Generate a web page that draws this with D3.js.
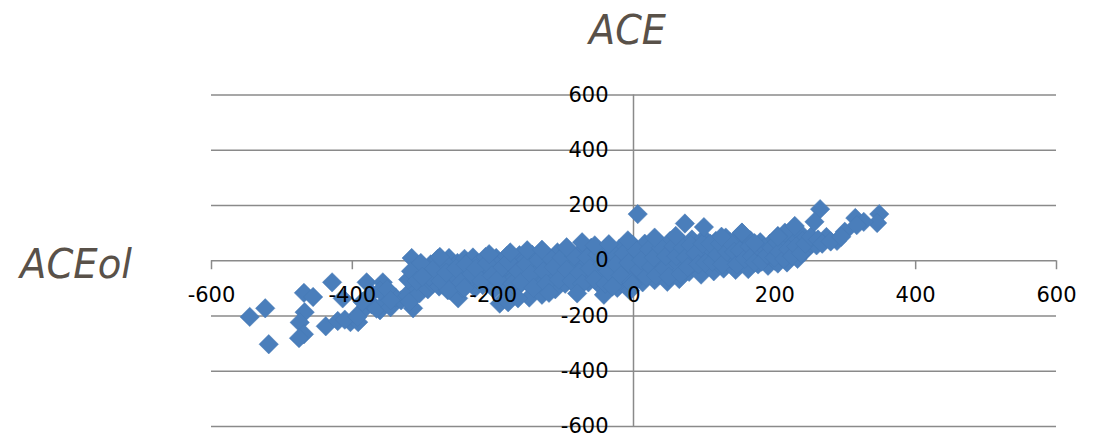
<!DOCTYPE html>
<html>
<head>
<meta charset="utf-8">
<script src="https://cdn.jsdelivr.net/npm/d3@7"></script>
<style>
  html, body { margin: 0; padding: 0; background: #fff; }
  text { font-family: "DejaVu Sans", sans-serif; }
</style>
</head>
<body>
<div id="chart"></div>
<script>
const xTicks = [-600, -400, -200, 0, 200, 400, 600];
const yTicks = [-600, -400, -200, 0, 200, 400, 600];

// scattered points on the left end, [ACE, ACEol]
const leftPoints = [
    [-545,-205],[-523,-174],[-518,-304],[-468,-118],[-455,-133],[-467,-188],[-474,-225],[-468,-268],
    [-475,-282],[-428,-80],[-437,-239],[-413,-138],[-420,-220],[-402,-224],[-391,-224],[-388,-188],
    [-379,-80],[-356,-80],[-360,-181],[-315,8],[-313,-174],[-249,-138],[-410,-215],[-380,-170],
    [-372,-160],[-365,-175],[-352,-150],[-345,-170],[-338,-135],[-330,-145],[-322,-125],[-345,-120],
    [-318,-150],[-372,-120],[-360,-110],[-350,-105],[-392,-205],[-385,-150]
];

// the dense band, read column by column
const bandPoints = [
    [-312,-55],[-310,-95],[-306,-30],[-304,-120],[-298,-70],[-295,-45],[-292,-105],[-288,-15],
    [-285,-85],[-281,-50],[-278,5],[-276,-95],[-272,-25],[-268,-70],[-264,-108],[-262,8],
    [-258,-40],[-255,-80],[-250,-10],[-247,-60],[-243,-100],[-240,5],[-236,-35],[-232,-75],
    [-228,10],[-225,-100],[-222,-15],[-218,-55],[-214,-90],[-210,12],[-206,-30],[-203,-70],
    [-198,-105],[-195,8],[-191,-15],[-188,-50],[-184,-85],[-180,15],[-177,-120],[-174,-30],
    [-170,-65],[-166,-100],[-162,18],[-158,-10],[-155,-45],[-151,-80],[-148,-135],[-144,20],
    [-140,-25],[-137,-60],[-133,-95],[-130,-125],[-126,25],[-122,-5],[-119,-40],[-115,-75],
    [-111,-105],[-108,28],[-104,-15],[-100,-50],[-97,-85],[-93,35],[-90,5],[-86,-30],
    [-82,-65],[-79,-100],[-75,30],[-71,-10],[-68,-45],[-64,-80],[-60,45],[-57,15],
    [-53,-25],[-49,-60],[-46,-95],[-42,-125],[-38,48],[-34,10],[-31,-30],[-27,-65],
    [-23,-100],[-20,42],[-16,5],[-12,-35],[-9,-70],[-5,-110],[-1,55],[2,20],
    [6,-15],[9,-50],[13,-80],[16,60],[20,30],[23,-5],[27,-40],[30,-72],
    [34,65],[37,25],[41,-10],[44,-50],[48,-78],[52,70],[55,35],[59,0],
    [62,-35],[65,-68],[69,62],[72,30],[75,-5],[79,-42],[83,75],[86,40],
    [90,5],[93,-30],[96,-52],[100,80],[103,45],[107,10],[110,-25],[114,-40],
    [117,70],[121,38],[124,5],[128,-30],[131,82],[135,50],[138,15],[142,-18],
    [145,-35],[149,85],[152,55],[156,20],[159,-12],[163,-32],[166,72],[170,40],
    [173,8],[177,-15],[180,65],[184,35],[187,5],[191,-20],[194,60],[198,30],
    [201,-2],[205,-12],[208,80],[212,50],[215,20],[218,-8],[222,90],[226,62],
    [229,30],[233,5],[236,100],[240,70],[243,32],[246,42],[250,60],[260,54],
    [274,84],[289,70],[300,103],[-150,-30],[-120,-60],[-70,-20],[-40,15],[-10,-20],
    [40,10],[85,-10],[125,-5],[160,30],[-200,-40],[-260,-60],[-300,-20],[0,-30],
    [-90,-60],[-30,-50],[15,5],[60,-20],[105,25],[140,0],[180,15],[210,35]
];

// more of the band, the spots that read as solid colour
const fillPoints = [
    [-320,-70],[-316,-40],[-308,-75],[-302,-10],[-290,-60],[-283,-30],[-274,-75],[-270,-5],
    [-266,-45],[-252,-30],[-245,-80],[-238,-15],[-230,-50],[-224,-30],[-216,-75],[-208,-10],
    [-201,-55],[-193,-70],[-186,-25],[-178,-5],[-172,-85],[-164,-40],[-160,-80],[-153,-15],
    [-146,-50],[-142,-100],[-135,0],[-128,-40],[-124,-85],[-117,5],[-113,-25],[-106,-70],
    [-102,10],[-95,-35],[-88,-75],[-84,15],[-77,-45],[-73,-85],[-66,10],[-62,-30],
    [-55,-70],[-51,20],[-44,-15],[-40,-85],[-36,-40],[-29,25],[-25,-15],[-18,-55],
    [-14,25],[-7,-10],[-3,-80],[4,35],[8,-35],[11,0],[18,-60],[22,40],
    [25,-25],[29,10],[32,-55],[39,45],[43,-30],[46,15],[50,-60],[57,50],
    [61,15],[67,-50],[70,45],[74,10],[77,-25],[81,55],[88,25],[92,-15],
    [98,60],[102,-10],[109,60],[112,-5],[119,20],[123,60],[126,-15],[133,30],
    [137,65],[143,30],[147,-15],[151,35],[154,100],[158,5],[165,50],[168,15],
    [172,-8],[176,50],[182,-5],[186,45],[190,20],[196,45],[200,10],[204,65],
    [207,30],[214,5],[220,40],[225,15],[231,50],[238,25],[244,60],[252,85],
    [262,75],[268,60],[280,68],[295,85]
];

// bumps along the top and bottom edge of the band
const edgePoints = [
    [-190,-157],[-178,-152],[-164,-138],[-80,-120],[-151,36],[-95,47],[-73,65],[-55,54],
    [-8,72],[-120,-118],[-30,-95],[-275,12],[-205,22],[-175,28],[-130,38],[-35,58],[215,100],
    [205,88],[-2,-88],[30,82],[60,88],[125,85],[172,62],[-262,-108],[-240,-100]
];

// scattered points on the right end
const rightPoints = [
    [6,167],[73,133],[100,120],[154,100],[229,124],[265,185],[257,139],[315,153],
    [349,167],[346,135],[327,139],[317,127],[-345,-145],[-300,-60],[205,85]
];

const xScale = d3.scaleLinear().domain([-600, 600]).range([211, 1056]);
const yScale = d3.scaleLinear().domain([-600, 600]).range([426, 94.5]);

const svg = d3.select("#chart").append("svg")
    .attr("width", 1093)
    .attr("height", 435)
    .style("display", "block");

const axisColor = "#8a8a8a";

// horizontal gridlines
svg.append("g")
    .attr("transform", `translate(211, 0)`)
    .call(d3.axisLeft(yScale).tickValues(yTicks).tickSize(-845).tickFormat(""))
    .call(g => g.select(".domain").remove())
    .call(g => g.selectAll("line").attr("stroke", axisColor).attr("stroke-width", 1.5));

// axis lines and x ticks, labels go on later so they sit above the markers
svg.append("g")
    .attr("transform", `translate(0, ${yScale(0)})`)
    .call(d3.axisBottom(xScale).tickValues(xTicks).tickSize(9).tickFormat(""))
    .call(g => g.select(".domain").remove())
    .call(g => g.selectAll("line").attr("stroke", axisColor).attr("stroke-width", 1.5));

svg.append("line")
    .attr("x1", xScale(0)).attr("x2", xScale(0))
    .attr("y1", yScale(600)).attr("y2", yScale(-600))
    .attr("stroke", axisColor)
    .attr("stroke-width", 1.5);

// markers
const allPoints = [...leftPoints, ...bandPoints, ...fillPoints, ...edgePoints, ...rightPoints];
const diamond = d3.symbol().type(d3.symbolDiamond2).size(240);

svg.append("g").selectAll("path")
    .data(allPoints)
    .enter()
    .append("path")
    .attr("d", diamond)
    .attr("transform", d => `translate(${xScale(d[0])}, ${yScale(d[1])})`)
    .attr("fill", "#4a7ebb")
    .attr("stroke", "#4778b4")
    .attr("stroke-width", 0.5);

// tick labels, plain hyphen like the original
svg.append("g")
    .attr("transform", `translate(0, ${yScale(0)})`)
    .call(d3.axisBottom(xScale).tickValues(xTicks).tickSize(0).tickPadding(27).tickFormat(d => String(d)))
    .call(g => g.select(".domain").remove())
    .call(g => g.selectAll("text").attr("fill", "#000").attr("font-size", 21).attr("font-family", "DejaVu Sans"));

svg.append("g")
    .attr("transform", `translate(${xScale(0)}, 0)`)
    .call(d3.axisLeft(yScale).tickValues(yTicks).tickSize(0).tickPadding(25).tickFormat(d => String(d)))
    .call(g => g.select(".domain").remove())
    .call(g => g.selectAll("text").attr("fill", "#000").attr("font-size", 21).attr("font-family", "DejaVu Sans"));

// titles
svg.append("text")
    .attr("x", 589).attr("y", 44)
    .attr("textLength", 77).attr("lengthAdjust", "spacingAndGlyphs")
    .attr("font-size", 41).attr("font-style", "italic")
    .attr("fill", "#595149")
    .text("ACE");

svg.append("text")
    .attr("x", 20).attr("y", 278)
    .attr("textLength", 112).attr("lengthAdjust", "spacingAndGlyphs")
    .attr("font-size", 41).attr("font-style", "italic")
    .attr("fill", "#595149")
    .text("ACEol");
</script>
</body>
</html>
